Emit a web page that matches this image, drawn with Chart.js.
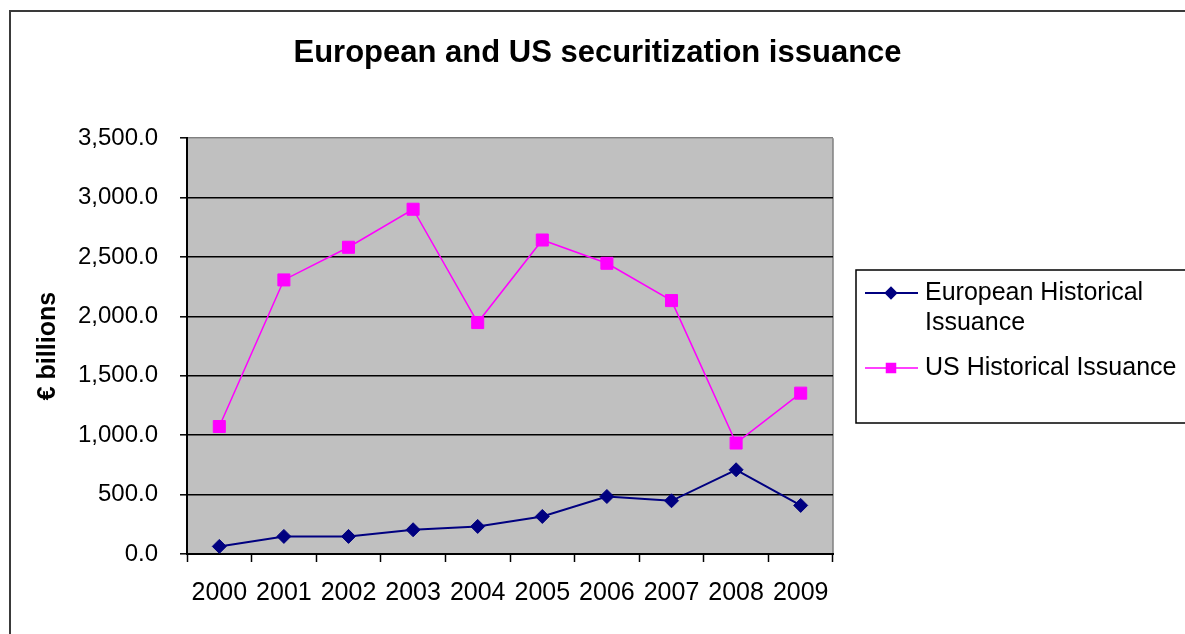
<!DOCTYPE html>
<html>
<head>
<meta charset="utf-8">
<title>European and US securitization issuance</title>
<script src="https://cdn.jsdelivr.net/npm/chart.js@4.4.1/dist/chart.umd.min.js"></script>
<style>
  html, body { margin: 0; padding: 0; background: #fff; overflow: hidden; }
  canvas { display: block; }
</style>
</head>
<body>
<canvas id="chart" width="1185" height="634"></canvas>
<script>
// ── DATA (€ billions) ──
const YEARS  = ['2000', '2001', '2002', '2003', '2004', '2005', '2006', '2007', '2008', '2009'];
const EUROPE = [64, 148, 148, 204, 232, 316, 484, 448, 709, 409];
const US     = [1073, 2307, 2582, 2902, 1948, 2643, 2447, 2133, 934, 1354];

const Y_MIN  = 0;
const Y_MAX  = 3500;
const Y_STEP = 500;

const FONT = "'Liberation Sans', Arial, sans-serif";

const COLORS = {
  navy:    '#000080',
  magenta: '#ff00ff',
  plot:    '#c0c0c0',
  frame:   '#808080',
  text:    '#000000',
};

// grey plot area + light right edge, drawn under the grid
const plotBackground = {
  id: 'plotBackground',
  beforeDraw(chart) {
    const { ctx, chartArea: a } = chart;
    ctx.save();
    ctx.fillStyle = COLORS.plot;
    ctx.fillRect(a.left, a.top, a.right - a.left, a.bottom - a.top);
    ctx.strokeStyle = COLORS.frame;
    ctx.lineWidth = 1.5;
    ctx.beginPath();
    ctx.moveTo(a.right, a.top);
    ctx.lineTo(a.right, a.bottom);
    ctx.stroke();
    // outer chart frame (runs off the right / bottom of the picture)
    ctx.strokeStyle = '#3a3a3a';
    ctx.lineWidth = 2;
    ctx.beginPath();
    ctx.moveTo(10, chart.height + 5);
    ctx.lineTo(10, 11);
    ctx.lineTo(chart.width + 5, 11);
    ctx.stroke();
    ctx.restore();
  },
};

// boxed legend on the right, labels wrap like the original
const boxLegend = {
  id: 'boxLegend',
  afterDraw(chart) {
    const { ctx } = chart;
    const box = { x: 856, y: 270, w: 400, h: 153 };
    const textX = 925, maxW = 265, lineH = 30;
    ctx.save();
    ctx.strokeStyle = '#000';
    ctx.lineWidth = 1.5;
    ctx.strokeRect(box.x, box.y, box.w, box.h);

    ctx.font = `25px ${FONT}`;
    ctx.fillStyle = COLORS.text;
    ctx.textBaseline = 'middle';
    ctx.textAlign = 'left';

    let y = 293;
    chart.data.datasets.forEach(ds => {
      // wrap label into lines
      const words = ds.label.split(' ');
      const lines = [];
      let cur = '';
      words.forEach(w => {
        const test = cur ? cur + ' ' + w : w;
        if (ctx.measureText(test).width > maxW && cur) { lines.push(cur); cur = w; }
        else cur = test;
      });
      if (cur) lines.push(cur);

      ctx.strokeStyle = ds.borderColor;
      ctx.lineWidth = ds.borderWidth;
      ctx.beginPath();
      ctx.moveTo(865, y);
      ctx.lineTo(918, y);
      ctx.stroke();
      ctx.fillStyle = ds.pointBackgroundColor;
      ctx.strokeStyle = ds.pointBorderColor;
      Chart.helpers.drawPoint(ctx, {
        pointStyle: ds.pointStyle,
        radius: ds.pointRadius * 0.75,
        rotation: 0,
        borderWidth: 1,
      }, 891, y);

      ctx.fillStyle = COLORS.text;
      lines.forEach((ln, i) => ctx.fillText(ln, textX, y + i * lineH));
      y += lines.length * lineH + 15;
    });
    ctx.restore();
  },
};

const fmt = v => v.toLocaleString('en-US', { minimumFractionDigits: 1, maximumFractionDigits: 1 });

new Chart(document.getElementById('chart'), {
  type: 'line',
  data: {
    labels: YEARS,
    datasets: [
      {
        label: 'European Historical Issuance',
        data: EUROPE,
        borderColor: COLORS.navy,
        borderWidth: 2,
        pointStyle: 'rectRot',
        pointRadius: 7,
        pointBackgroundColor: COLORS.navy,
        pointBorderColor: COLORS.navy,
        pointBorderWidth: 1,
        tension: 0,
      },
      {
        label: 'US Historical Issuance',
        data: US,
        borderColor: COLORS.magenta,
        borderWidth: 1.5,
        pointStyle: 'rect',
        pointRadius: 8.5,
        pointBackgroundColor: COLORS.magenta,
        pointBorderColor: COLORS.magenta,
        pointBorderWidth: 1,
        tension: 0,
      },
    ],
  },
  options: {
    responsive: false,
    animation: false,
    layout: { padding: { left: 10, right: 0, top: 0, bottom: 0 } },
    plugins: {
      legend: { display: false },
      tooltip: { enabled: false },
      title: {
        display: true,
        text: 'European and US securitization issuance',
        color: COLORS.text,
        font: { family: FONT, size: 31, weight: 'bold' },
        padding: { top: 35, bottom: 66 },
      },
    },
    scales: {
      x: {
        offset: true,
        afterFit: s => { s.height = 80; },
        grid: {
          offset: true,
          drawOnChartArea: false,
          drawTicks: true,
          tickLength: 8,
          tickColor: '#000',
          tickWidth: 1.5,
        },
        border: { display: true, color: '#000', width: 2 },
        ticks: {
          color: COLORS.text,
          font: { family: FONT, size: 25 },
          padding: 16,
          maxRotation: 0,
          autoSkip: false,
        },
      },
      y: {
        min: Y_MIN,
        max: Y_MAX,
        afterFit: s => { s.width = 177; },
        grid: {
          color: ctx => (ctx.tick && ctx.tick.value === Y_MAX ? COLORS.frame : '#000'),
          lineWidth: 1.6,
          drawTicks: true,
          tickLength: 7,
          tickColor: '#000',
          tickWidth: 1.5,
        },
        border: { display: true, color: '#000', width: 2 },
        ticks: {
          stepSize: Y_STEP,
          color: COLORS.text,
          font: { family: FONT, size: 24 },
          padding: 22,
          callback: v => fmt(v),
        },
        title: {
          display: true,
          text: '€ billions',
          color: COLORS.text,
          font: { family: FONT, size: 25, weight: 'bold' },
          padding: { top: 23, bottom: 0 },
        },
      },
      // empty right-hand strip that leaves room for the legend box
      legendSpace: {
        position: 'right',
        display: true,
        afterFit: s => { s.width = 352; },
        grid: { display: false, drawTicks: false },
        border: { display: false },
        ticks: { display: false },
      },
    },
  },
  plugins: [plotBackground, boxLegend],
});
</script>
</body>
</html>
